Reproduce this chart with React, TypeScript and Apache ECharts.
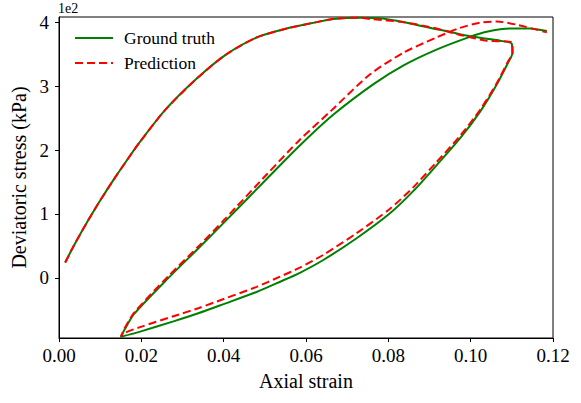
import React, { useEffect, useRef } from "react";
import * as echarts from "echarts";

// Axial strain / deviatoric stress (kPa) — Ground truth
const gtStrain = [
  0.0015, 0.0035, 0.006, 0.008, 0.010, 0.013, 0.0165, 0.0197, 0.0257, 0.033, 0.0403, 0.048, 0.0553, 0.0626, 0.0666, 0.0731, 0.078, 0.082, 0.0917, 0.0942, 0.099, 0.1039, 0.1071, 0.110,
  0.1101, 0.1092, 0.1063, 0.1023, 0.0974, 0.0917, 0.0861, 0.0804, 0.0723, 0.0642, 0.0585, 0.0537, 0.048, 0.040, 0.034, 0.0278, 0.0197, 0.0152,
  0.0150, 0.0160, 0.0183, 0.0266, 0.0343, 0.0403, 0.0505, 0.0585, 0.0666, 0.0764, 0.0836, 0.0917, 0.0998, 0.1039, 0.1096, 0.1144, 0.1185,
];
const gtStress = [
  24, 49, 78, 100, 121, 151, 184, 213, 262, 309, 348, 376, 390, 400, 405, 407, 406, 402, 389, 386, 379, 374, 371, 366,
  351, 338, 302, 260, 218, 176, 136, 101, 62, 28, 8, -6, -22, -41, -55, -68, -84, -92,
  -93, -80, -56, 0, 49, 88, 155, 207, 255, 303, 332, 357, 377, 385, 390, 390, 386,
];

// Prediction
const predStrain = [
  0.0015, 0.0035, 0.006, 0.008, 0.010, 0.013, 0.0165, 0.0197, 0.0257, 0.033, 0.0403, 0.048, 0.0553, 0.0626, 0.0666, 0.0731, 0.0755, 0.0836, 0.0917, 0.0974, 0.1039, 0.110,
  0.1102, 0.1092, 0.1063, 0.1023, 0.0974, 0.0917, 0.0861, 0.0804, 0.0723, 0.0642, 0.0585, 0.0537, 0.048, 0.040, 0.034, 0.0278, 0.0197, 0.0156,
  0.0150, 0.0160, 0.0183, 0.0266, 0.0343, 0.0403, 0.0505, 0.0585, 0.0662, 0.0755, 0.0836, 0.0917, 0.0974, 0.1023, 0.1063, 0.1112, 0.1185,
];
const predStress = [
  24, 49, 78, 100, 121, 151, 184, 213, 262, 309, 348, 376, 390, 400, 405, 407, 405, 400, 390, 380, 371, 368,
  351, 340, 304, 263, 222, 181, 142, 108, 70, 36, 16, 2, -14, -33, -47, -60, -77, -87,
  -92, -78, -54, 3, 52, 92, 162, 216, 262, 318, 352, 376, 391, 399, 401, 396, 384,
];

const xTicks = [0, 0.02, 0.04, 0.06, 0.08, 0.1, 0.12];
const yTicks = [0, 100, 200, 300, 400];

const FONT = "Liberation Serif";

export default function App() {
  const ref = useRef<HTMLDivElement>(null);
  useEffect(() => {
    if (!ref.current) return;
    document.body.style.margin = "0";
    const chart = echarts.init(ref.current, null, { renderer: "svg" });
    const gt = gtStrain.map((x, i) => [x, gtStress[i]]);
    const pr = predStrain.map((x, i) => [x, predStress[i]]);
    chart.setOption({
      animation: false,
      backgroundColor: "#fff",
      textStyle: { fontFamily: FONT },
      grid: {
        left: 59,
        right: 28,
        top: 17,
        bottom: 65,
        show: true,
        borderColor: "#000",
        borderWidth: 1,
      },
      legend: {
        orient: "vertical",
        left: 69,
        top: 24,
        itemWidth: 38,
        itemHeight: 14,
        itemGap: 7,
        itemStyle: { opacity: 0 },
        textStyle: { fontFamily: FONT, fontSize: 17.5, color: "#000", padding: [0, 0, 0, 6] },
        data: ["Ground truth", "Prediction"],
      },
      graphic: [
        {
          type: "text",
          left: 58,
          top: 1,
          style: { text: "1e2", fontFamily: FONT, fontSize: 14, fill: "#000" },
        },
      ],
      xAxis: {
        type: "value",
        min: 0,
        max: 0.12,
        interval: 0.02,
        name: "Axial strain",
        nameLocation: "middle",
        nameGap: 33,
        nameTextStyle: { fontFamily: FONT, fontSize: 20, color: "#000" },
        axisLine: { show: true, onZero: false, lineStyle: { color: "#000", width: 1 } },
        axisTick: { show: true, inside: false, length: 4, lineStyle: { color: "#000" } },
        axisLabel: {
          margin: 8,
          fontFamily: FONT,
          fontSize: 19,
          color: "#000",
          formatter: (v: number) => v.toFixed(2),
          customValues: xTicks,
        },
        splitLine: { show: false },
      },
      yAxis: {
        type: "value",
        min: -94,
        max: 408,
        name: "Deviatoric stress (kPa)",
        nameLocation: "middle",
        nameGap: 30,
        nameTextStyle: { fontFamily: FONT, fontSize: 20, color: "#000" },
        axisLine: { show: true, onZero: false, lineStyle: { color: "#000", width: 1 } },
        axisTick: { show: true, inside: false, length: 4, lineStyle: { color: "#000" }, customValues: yTicks },
        axisLabel: {
          margin: 10,
          fontFamily: FONT,
          fontSize: 19,
          color: "#000",
          formatter: (v: number) => String(Math.round(v / 100)),
          customValues: yTicks,
        },
        splitLine: { show: false },
      },
      series: [
        {
          name: "Ground truth",
          type: "line",
          data: gt,
          showSymbol: false,
          symbol: "none",
          smooth: 0.25,
          clip: true,
          lineStyle: { color: "#008000", width: 2 },
          itemStyle: { color: "#008000" },
          z: 2,
        },
        {
          name: "Prediction",
          type: "line",
          data: pr,
          showSymbol: false,
          symbol: "none",
          smooth: 0.25,
          clip: true,
          lineStyle: { color: "#ff0000", width: 2, type: [8, 4] },
          itemStyle: { color: "#ff0000" },
          z: 3,
        },
      ],
    });
    return () => chart.dispose();
  }, []);
  return <div ref={ref} style={{ width: 581, height: 403 }} />;
}
